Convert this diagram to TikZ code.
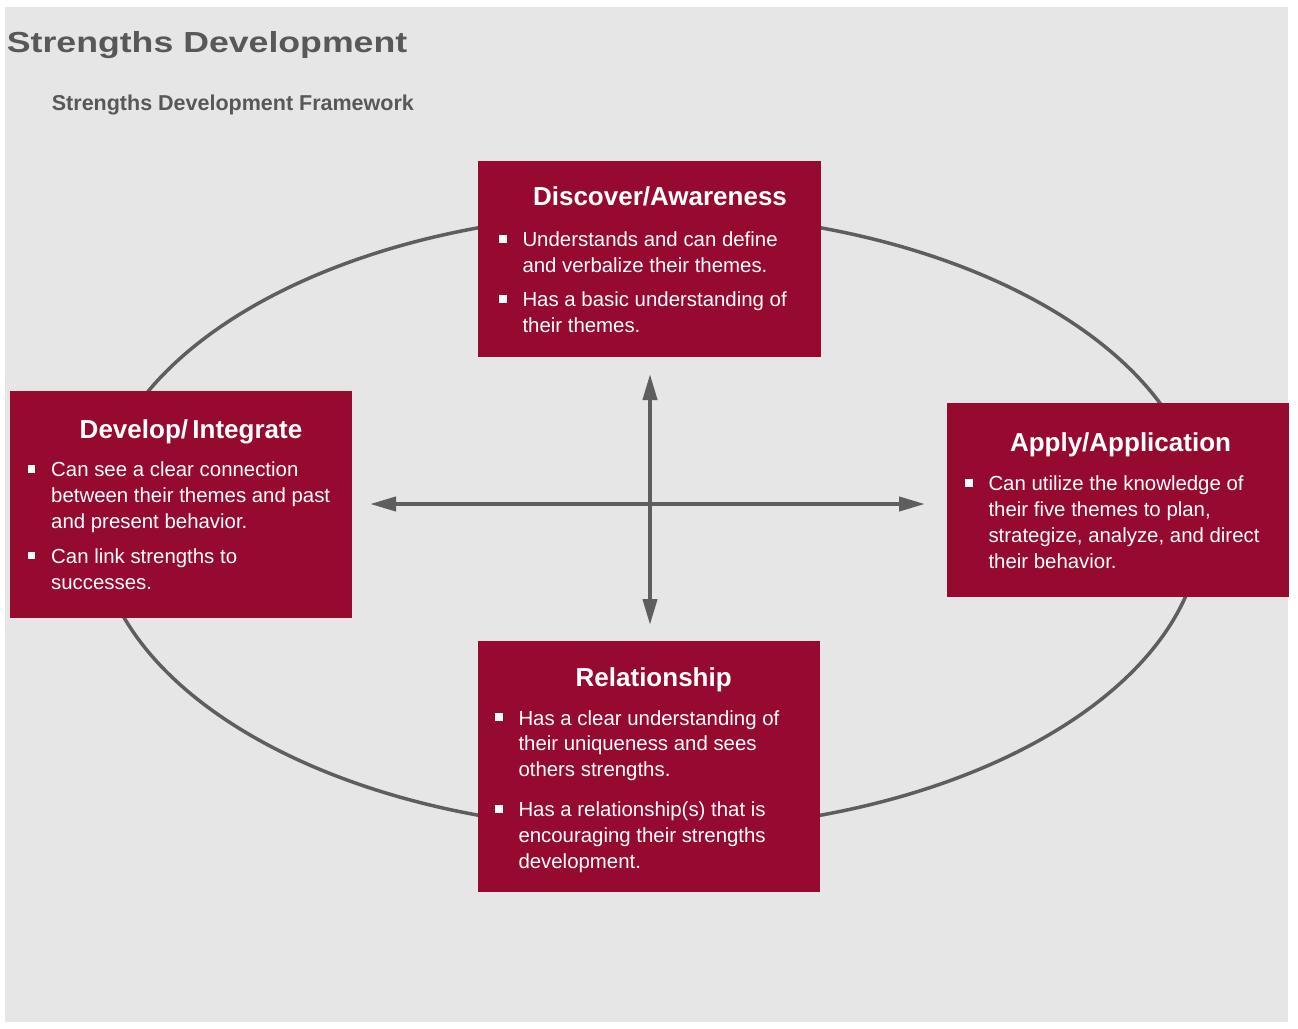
\documentclass[tikz,border=0pt]{standalone}
\usepackage{fontspec}
\setmainfont{Liberation Sans}
\newfontfamily\widefont{Liberation Sans}[FakeStretch=1.23]
\usetikzlibrary{arrows.meta}

\definecolor{boxred}{HTML}{960A2F}
\definecolor{bggray}{HTML}{E6E6E6}
\definecolor{linegray}{HTML}{5E5E5E}
\definecolor{titlegray}{HTML}{58585A}

% small white square in front of a point
\newcommand\sq{\llap{\rule[4.3pt]{7.5pt}{7.5pt}\hspace{16pt}}}

\begin{document}
\begin{tikzpicture}[x=1pt, y=-1pt,
	box/.style={fill=boxred, inner sep=0pt},
	head/.style={anchor=base, text=white, inner sep=0pt, font=\fontsize{26}{30}\selectfont\bfseries},
	points/.style={anchor=north west, align=left, text=white, inner sep=0pt, font=\fontsize{20.4}{25.8}\selectfont},
	ring/.style={draw=linegray, line width=3.5pt},
	axis/.style={draw=linegray, line width=4pt, >={Triangle[length=26pt, width=14pt]}, <->}]

	\useasboundingbox (0,0) rectangle (1298,1028);
	\fill[bggray] (5,7) rectangle (1288,1022);

	\node[anchor=base west, inner sep=0pt, text=titlegray, font=\widefont\fontsize{29}{34}\selectfont\bfseries] (title) at (6.7, 52.7) {Strengths Development};
	\node[anchor=base west, inner sep=0pt, text=titlegray, font=\fontsize{21.5}{26}\selectfont\bfseries] (subtitle) at (51.7, 110) {Strengths Development Framework};

	% Draw the ring and the cross
	\draw[ring] (649.4,521.5) ellipse [x radius=552.6pt, y radius=308.8pt];

	\coordinate (mid) at (650, 504);
	\coordinate (w) at (370, 504);
	\coordinate (e) at (925, 504);
	\coordinate (n) at (650, 374);
	\coordinate (s) at (650, 625);
	\draw[axis] (w) -- (e);
	\draw[axis] (n) -- (s);

	% the four stages
	\node[box, minimum width=343pt, minimum height=196pt] (disc) at (649.5, 259) {};
	\node[box, minimum width=342pt, minimum height=227pt] (devel) at (181, 504.5) {};
	\node[box, minimum width=342pt, minimum height=194pt] (apply) at (1118, 500) {};
	\node[box, minimum width=342pt, minimum height=251pt] (relat) at (649, 766.5) {};

	\node[head] (discH) at (660, 205) {Discover/Awareness};
	\node[head] (develH) at (191, 438) {Develop/\,Integrate};
	\node[head] (applyH) at (1120.5, 451.7) {Apply/Application};
	\node[head] (relatH) at (653.7, 686.7) {Relationship};

	\node[points] (discP) at (522.3, 228.6) {\strut\sq Understands and can define\\
		and verbalize their themes.\\[8.4pt]
		\sq Has a basic understanding of\\
		their themes.};
	\node[points] (develP) at (51, 458.6) {\strut\sq Can see a clear connection\\
		between their themes and past\\
		and present behavior.\\[9.2pt]
		\sq Can link strengths to\\
		successes.};
	\node[points] (applyP) at (988.3, 472.6) {\strut\sq Can utilize the knowledge of\\
		their five themes to plan,\\
		strategize, analyze, and direct\\
		their behavior.};
	\node[points] (relatP) at (518.3, 706.9) {\strut\sq Has a clear understanding of\\
		their uniqueness and sees\\
		others strengths.\\[14.3pt]
		\sq Has a relationship(s) that is\\
		encouraging their strengths\\
		development.};
\end{tikzpicture}
\end{document}
